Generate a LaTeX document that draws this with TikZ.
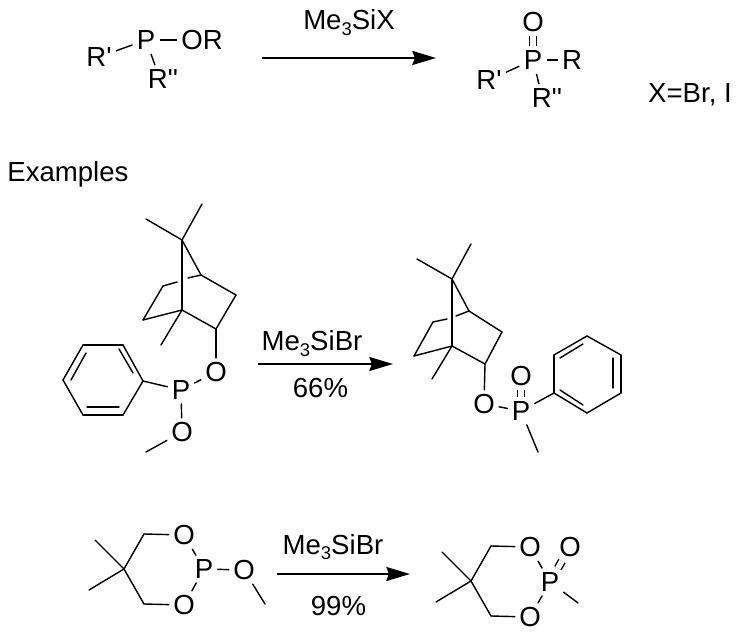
\documentclass[tikz,border=0pt]{standalone}
\usepackage{fontspec}
\usetikzlibrary{arrows.meta}
\setmainfont{Liberation Sans}
\newcommand{\lowthree}{\raisebox{-3.4pt}{\fontsize{10.5}{12}\selectfont 3}}
\begin{document}
\begin{tikzpicture}[x=0.02cm,y=-0.02cm,
        atom/.style={inner sep=2.3pt,font=\fontsize{15.7}{18}\selectfont},
        txt/.style={inner sep=0pt,anchor=base,font=\fontsize{15.7}{18}\selectfont},
        bond/.style={line width=0.8pt},
        dbond/.style={line width=0.8pt,double,double distance=3.2pt},
        rxn/.style={line width=0.8pt,-{Stealth[length=13.5pt,width=8pt,inset=1.5pt]}}]
\useasboundingbox (0,0) rectangle (740,634);

% general reaction
\node[atom] (p1) at (146,40) {P};
\node[atom] (ra) at (99,57) {R\textquotesingle};
\node[atom] (or) at (202,40) {OR};
\node[atom] (rb) at (163,79) {R\textquotesingle\textquotesingle};
\draw[bond] (p1) -- (ra);
\draw[bond] (p1) -- (or);
\draw[bond] (p1) -- (rb.120);

\coordinate (a1s) at (262,58);
\coordinate (a1e) at (436,58);
\draw[rxn] (a1s) -- (a1e);
\node[txt] (t1) at (349,30) {Me\lowthree SiX};

\node[atom] (p2) at (533,60) {P};
\node[atom] (o2) at (533,22) {O};
\node[atom] (r2) at (572,60) {R};
\node[atom] (rc) at (489,80) {R\textquotesingle};
\node[atom] (rd) at (547,98) {R\textquotesingle\textquotesingle};
\draw[dbond] (p2) -- (o2);
\draw[bond] (p2) -- (r2);
\draw[bond] (p2) -- (rc);
\draw[bond] (p2) -- (rd.120);
\node[txt] (xx) at (690,103) {X=Br, I};

\node[txt,anchor=base west] (ex) at (7,182) {Examples};

% first example, left
\foreach \n/\x/\y in {c7/182/240,m1/146/219,m2/202/204,c4/201/275,c3/236/295,c2/216/329,
        c1/182/310,c6/143/320,c5/163/286,m3/161/345,g1/177/282,g2/188/278,m4/146/452,
        h1/143/381,h2/123/345,h3/83/345,h4/63/380,h5/83/415,h6/123/415,
        i1/119/349,i2/133/373,i3/71/380,i4/86/353,i5/87/407,i6/119/407}
    \coordinate (\n) at (\x,\y);
\node[atom] (o3) at (216,372) {O};
\node[atom] (p3) at (181,390) {P};
\node[atom] (o4) at (182,432) {O};
\foreach \a/\b in {c7/m1,c7/m2,c7/c4,c7/c1,c4/c3,c3/c2,c2/c1,c1/c6,c6/c5,c1/m3,c5/g1,g2/c4,
        c2/o3,o3/p3,p3/o4,o4/m4,p3/h1,h1/h2,h2/h3,h3/h4,h4/h5,h5/h6,h6/h1,i1/i2,i3/i4,i5/i6}
    \draw[bond,line cap=round] (\a) -- (\b);

\coordinate (a2s) at (258,364);
\coordinate (a2e) at (393,364);
\draw[rxn] (a2s) -- (a2e);
\node[txt] (t2) at (312,351) {Me\lowthree SiBr};
\node[txt] (t3) at (320.5,398) {66\%};

% first example, right
\foreach \n/\x/\y in {d7/452/279,n1/417/259,n2/471/244,d4/469/311,d3/502/332,d2/485/364,
        d1/452/346,d6/414/356,d5/433/322,n3/432/379,e1/447/319,e2/456/316,n4/538/452,
        k1/554/393,k2/554/355,k3/587/336,k4/621/355,k5/621/393,k6/587/413,
        j1/560/358,j2/583/344,j3/613/358,j4/613/388,j5/583/405,j6/560/390}
    \coordinate (\n) at (\x,\y);
\node[atom] (o5) at (484,404) {O};
\node[atom] (p5) at (521,411) {P};
\node[atom] (o6) at (521,376) {O};
\foreach \a/\b in {d7/n1,d7/n2,d7/d4,d7/d1,d4/d3,d3/d2,d2/d1,d1/d6,d6/d5,d1/n3,d5/e1,e2/d4,
        d2/o5,o5/p5,p5/n4,p5/k1,k1/k2,k2/k3,k3/k4,k4/k5,k5/k6,k6/k1,j1/j2,j3/j4,j5/j6}
    \draw[bond,line cap=round] (\a) -- (\b);
\draw[dbond] (p5) -- (o6);

% second example, left
\foreach \n/\x/\y in {q1/95/540,q2/89/590,qc/124/569,qt/144/534,qb/144/604,q3/265/604}
    \coordinate (\n) at (\x,\y);
\node[atom] (o7) at (184,535) {O};
\node[atom] (p7) at (204,569) {P};
\node[atom] (o8) at (184,605) {O};
\node[atom] (o9) at (244,570) {O};
\foreach \a/\b in {q1/qc,q2/qc,qc/qt,qc/qb,qt/o7,qb/o8,o7/p7,o8/p7,p7/o9,o9/q3}
    \draw[bond,line cap=round] (\a) -- (\b);

\coordinate (a3s) at (277,574);
\coordinate (a3e) at (410,574);
\draw[rxn] (a3s) -- (a3e);
\node[txt] (t4) at (333,554) {Me\lowthree SiBr};
\node[txt] (t5) at (338.5,615) {99\%};

% second example, right
\foreach \n/\x/\y in {s1/442/552,s2/436/602,sc/471/581,st/491/546,sb/491/616,s3/578/603}
    \coordinate (\n) at (\x,\y);
\node[atom] (o10) at (530,547) {O};
\node[atom] (p10) at (550,582) {P};
\node[atom] (o11) at (530,617) {O};
\node[atom] (o12) at (570,547) {O};
\foreach \a/\b in {s1/sc,s2/sc,sc/st,sc/sb,st/o10,sb/o11,o10/p10,o11/p10,p10/s3}
    \draw[bond,line cap=round] (\a) -- (\b);
\draw[dbond] (p10) -- (o12);
\end{tikzpicture}
\end{document}
